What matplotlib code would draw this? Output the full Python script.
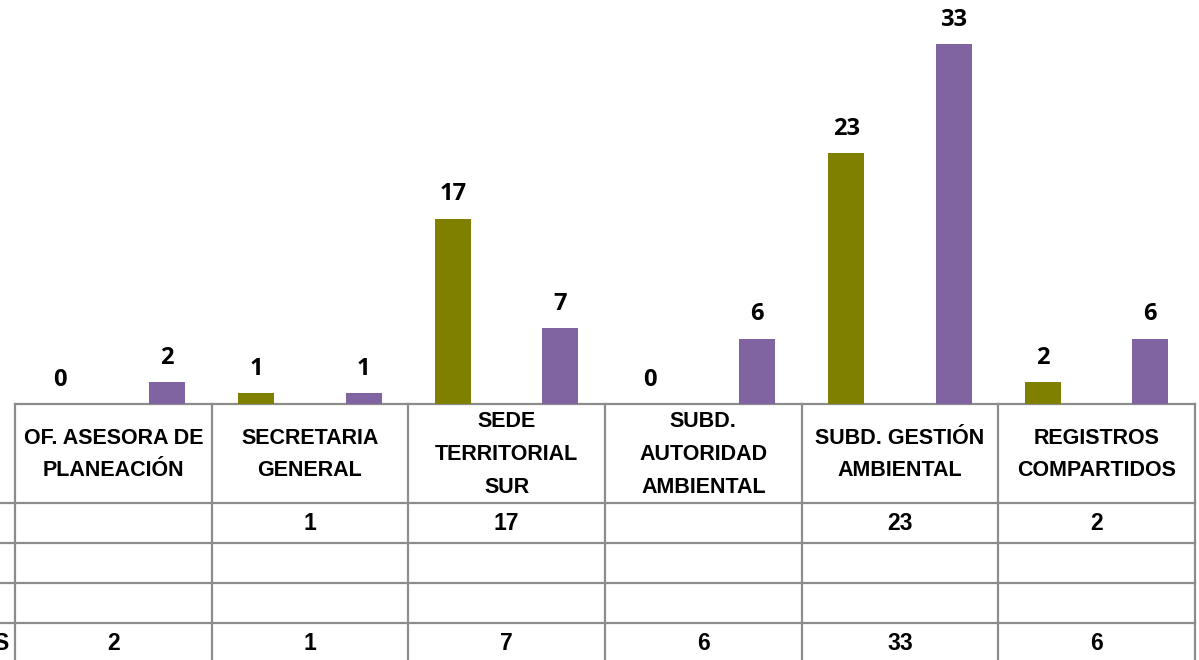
import matplotlib
matplotlib.use('Agg')
import matplotlib.pyplot as plt
import numpy as np

# datos
categorias = ['OF. ASESORA DE\nPLANEACIÓN', 'SECRETARIA\nGENERAL', 'SEDE\nTERRITORIAL\nSUR',
              'SUBD.\nAUTORIDAD\nAMBIENTAL', 'SUBD. GESTIÓN\nAMBIENTAL', 'REGISTROS\nCOMPARTIDOS']
serie1 = [0, 1, 17, 0, 23, 2]
serie1_tabla = ['', '1', '17', '', '23', '2']
serie2_tabla = ['', '', '', '', '', '']
serie3_tabla = ['', '', '', '', '', '']
serie4 = [2, 1, 7, 6, 33, 6]
serie4_tabla = ['2', '1', '7', '6', '33', '6']
etiquetas_filas = ['', '', '', 'S']

color1 = '#7f7f00'
color4 = '#8064a2'
gris = '#8c8c8c'

W, H = 1199, 660
x0, x1 = 15, 1195          # borde del area de graficos (px)
y_base = 404               # linea base / parte superior de la tabla
filas = [404, 503, 543, 583, 623, 663]

fig = plt.figure(figsize=(W / 100, H / 100), dpi=100)

# barras
ax = fig.add_axes([x0 / W, 1 - y_base / H, (x1 - x0) / W, y_base / H])
n = len(categorias)
x = np.arange(n)
w = 1 / 5.5
ax.bar(x - 1.5 * w, serie1, w, color=color1)
ax.bar(x + 1.5 * w, serie4, w, color=color4)
ax.set_xlim(-0.5, n - 0.5)
ax.set_ylim(0, 37.03)
ax.axis('off')

for xi, v in zip(x, serie1):
    ax.annotate(str(v), (xi - 1.5 * w, v), xytext=(0, 13), textcoords='offset points',
                ha='center', va='baseline', fontsize=17, fontweight='bold', family='Open Sans')
for xi, v in zip(x, serie4):
    ax.annotate(str(v), (xi + 1.5 * w, v), xytext=(0, 13), textcoords='offset points',
                ha='center', va='baseline', fontsize=17, fontweight='bold', family='Open Sans')

# tabla de datos
tab = fig.add_axes([0, 0, 1, 1])
tab.set_xlim(0, W)
tab.set_ylim(H, 0)
tab.axis('off')
tab.set_zorder(-1)

bordes = np.linspace(x0, x1, n + 1)
fuente = 'Liberation Sans'
tab.plot([x0, x1], [filas[0], filas[0]], color=gris, lw=1.6)
for yy in filas[1:]:
    tab.plot([0, x1], [yy, yy], color=gris, lw=1.6)
for xb in bordes:
    tab.plot([xb, xb], [filas[0], H], color=gris, lw=1.6)

centros = (bordes[:-1] + bordes[1:]) / 2
yh = (filas[0] + filas[1]) / 2
for cx, cat in zip(centros, categorias):
    tab.text(cx, yh + 1, cat, ha='center', va='center', fontsize=15.5, fontweight='bold',
             family=fuente, linespacing=1.75)

for i, fila in enumerate([serie1_tabla, serie2_tabla, serie3_tabla, serie4_tabla]):
    cy = (filas[i + 1] + filas[i + 2]) / 2
    for cx, t in zip(centros, fila):
        tab.text(cx, cy, t, ha='center', va='center', fontsize=16.5, fontweight='bold', family=fuente)
    tab.text(x0 - 6, cy, etiquetas_filas[i], ha='right', va='center', fontsize=16.5,
             fontweight='bold', family=fuente)

fig.savefig('out.png', dpi=100)
